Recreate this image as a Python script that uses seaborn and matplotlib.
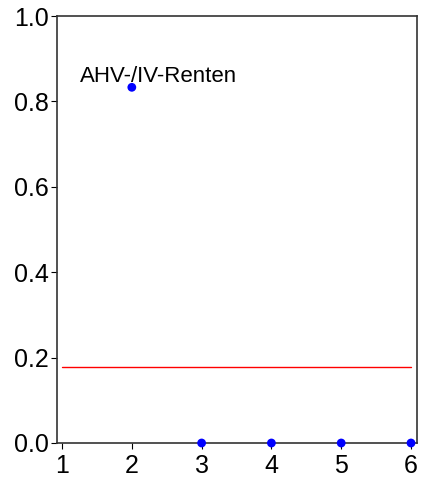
import pandas as pd
import seaborn as sns
import matplotlib.pyplot as plt

# data
positions = [2, 3, 4, 5, 6]
shares = [0.833, 0.0, 0.0, 0.0, 0.0]
reference_level = 0.178
label_text = "AHV-/IV-Renten"

df = pd.DataFrame({"pos": positions, "share": shares})

sns.set_style("white")
plt.rcParams['font.family'] = ['Liberation Sans', 'DejaVu Sans']

fig = plt.figure(figsize=(4.21, 4.79), dpi=100)
ax = fig.add_axes([57 / 421, 36 / 479, 360 / 421, 427 / 479])

ax.plot([1, 6], [reference_level, reference_level], color="red", linewidth=1)
sns.scatterplot(data=df, x="pos", y="share", color="blue", s=40,
                edgecolor="none", ax=ax, clip_on=False, zorder=3)
ax.text(1.26, 0.845, label_text, fontsize=16, ha="left", va="baseline",
        color="black")

ax.set_xlim(0.928, 6.086)
ax.set_ylim(0, 1.0)
ax.set_xticks([1, 2, 3, 4, 5, 6])
ax.set_yticks([0.0, 0.2, 0.4, 0.6, 0.8, 1.0])
ax.set_yticklabels(["0.0", "0.2", "0.4", "0.6", "0.8", "1.0"])
ax.set_xlabel("")
ax.set_ylabel("")
ax.tick_params(axis="both", labelsize=18, length=4, width=0.8, colors="black",
               direction="out", left=True, bottom=True, pad=2)
ax.tick_params(axis="x", pad=4)
for name, sp in ax.spines.items():
    sp.set_color("#333333")
    sp.set_linewidth(1.2)

fig.savefig("out.png", dpi=100)
